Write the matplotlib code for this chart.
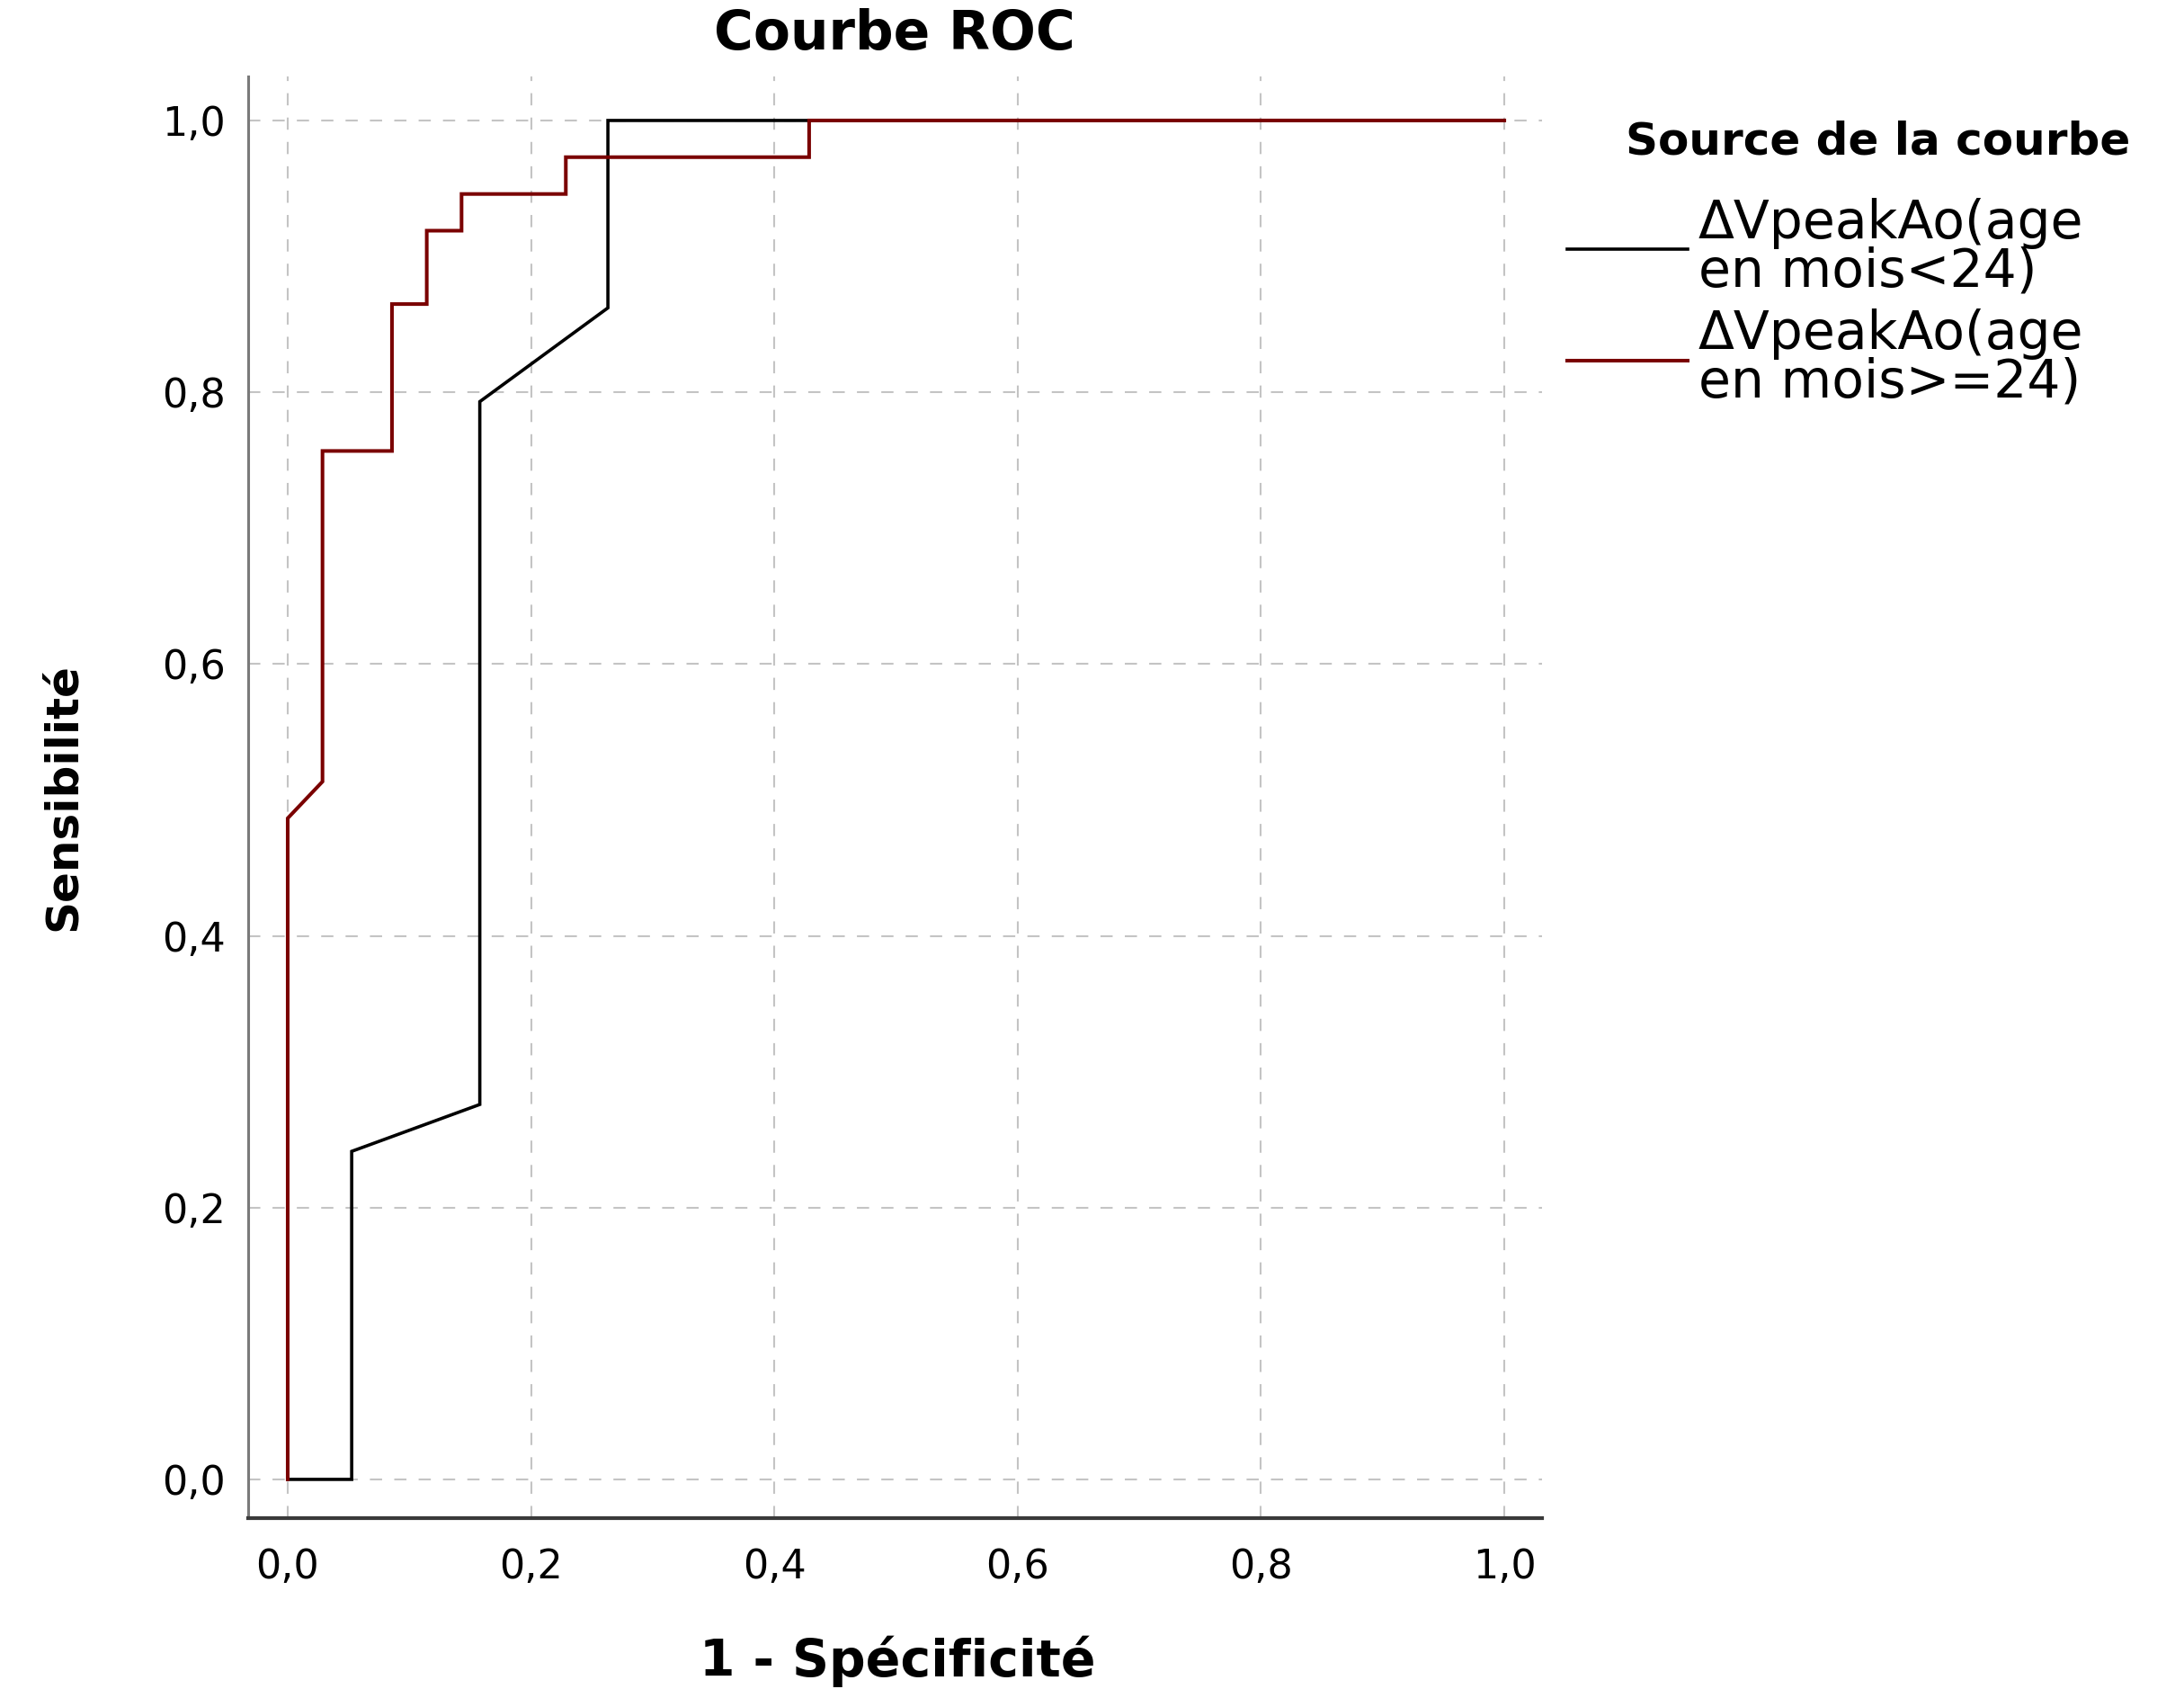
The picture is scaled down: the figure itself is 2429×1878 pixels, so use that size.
import matplotlib
matplotlib.use('Agg')
import matplotlib.pyplot as plt
from matplotlib.ticker import FuncFormatter

# ROC points (1 - specificity, sensitivity) for each age group
fpr_under_24 = [0.0, 0.0526, 0.0526, 0.1579, 0.1579, 0.2632, 0.2632, 1.0]
tpr_under_24 = [0.0, 0.0, 0.2414, 0.2759, 0.7931, 0.8621, 1.0, 1.0]

fpr_over_24 = [0.0, 0.0, 0.0286, 0.0286, 0.0857, 0.0857, 0.1143, 0.1143,
               0.1429, 0.1429, 0.2286, 0.2286, 0.4286, 0.4286, 1.0]
tpr_over_24 = [0.0, 0.4865, 0.5135, 0.7568, 0.7568, 0.8649, 0.8649, 0.9189,
               0.9189, 0.9459, 0.9459, 0.9730, 0.9730, 1.0, 1.0]

label_under_24 = 'ΔVpeakAo(age\nen mois<24)'
label_over_24 = 'ΔVpeakAo(age\nen mois>=24)'
ticks = [0.0, 0.2, 0.4, 0.6, 0.8, 1.0]

W, H = 2429, 1878
fig = plt.figure(figsize=(W / 100, H / 100), dpi=100)
ax = fig.add_axes([276 / W, 1 - 1688 / H, (1715 - 276) / W, (1688 - 85) / H])

l1, = ax.plot(fpr_under_24, tpr_under_24, color='black', lw=2.6, solid_joinstyle='miter')
l2, = ax.plot(fpr_over_24, tpr_over_24, color='#7a0000', lw=2.9, solid_joinstyle='miter')

ax.set_xlim(-0.0325, 1.031)
ax.set_ylim(-0.0285, 1.0324)
ax.set_xticks(ticks)
ax.set_yticks(ticks)
comma = FuncFormatter(lambda v, p: f'{v:.1f}'.replace('.', ','))
ax.xaxis.set_major_formatter(comma)
ax.yaxis.set_major_formatter(comma)
ax.tick_params(axis='both', length=0, labelsize=32)
ax.tick_params(axis='x', pad=24)
ax.tick_params(axis='y', pad=18)

ax.grid(True, color='#c4c4c4', lw=1.5, linestyle=(0, (6.5, 6.5)))
ax.set_axisbelow(True)
for side in ('top', 'right'):
    ax.spines[side].set_visible(False)
ax.spines['left'].set_color('#7a7a7a')
ax.spines['left'].set_linewidth(2.2)
ax.spines['bottom'].set_color('#3a3a3a')
ax.spines['bottom'].set_linewidth(3)

fig.text(995 / W, 1 - 39 / H, 'Courbe ROC', ha='center', va='center',
         fontsize=43, fontweight='bold')
fig.text(998 / W, 1 - 1847 / H, '1 - Spécificité', ha='center', va='center',
         fontsize=41, fontweight='bold')
fig.text(70 / W, 1 - 886 / H, 'Sensibilité', ha='center', va='center',
         rotation=90, fontsize=36, fontweight='bold')

fig.text(2089 / W, 1 - 158 / H, 'Source de la courbe', ha='center', va='center',
         fontsize=36, fontweight='bold')
fig.legend([l1, l2], [label_under_24, label_over_24], loc='upper left',
           bbox_to_anchor=(1743 / W, 1 - 220 / H), frameon=False,
           fontsize=42, handlelength=2.3, handletextpad=0.2,
           labelspacing=0.22, borderpad=0, borderaxespad=0)
plt.setp(fig.legends[0].get_texts(), linespacing=0.92)

fig.savefig('out.png', dpi=100)
